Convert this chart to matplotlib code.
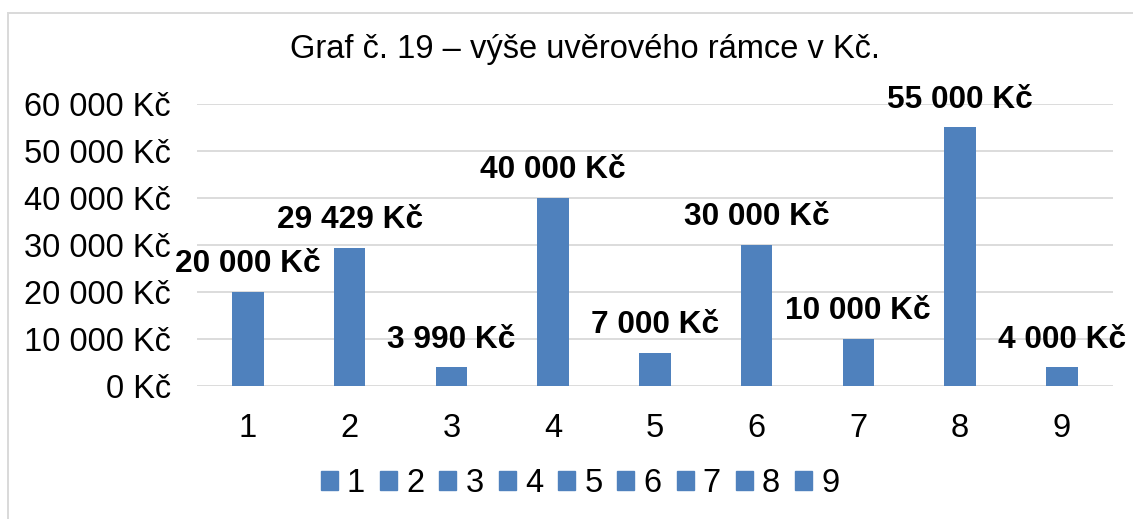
import matplotlib.pyplot as plt
from matplotlib.patches import Rectangle

# data
kategorie = ['1', '2', '3', '4', '5', '6', '7', '8', '9']
hodnoty = [20000, 29429, 3990, 40000, 7000, 30000, 10000, 55000, 4000]
popisky = ['20 000 Kč', '29 429 Kč', '3 990 Kč', '40 000 Kč', '7 000 Kč',
           '30 000 Kč', '10 000 Kč', '55 000 Kč', '4 000 Kč']
yticks = [0, 10000, 20000, 30000, 40000, 50000, 60000]
ytick_labels = ['0 Kč', '10 000 Kč', '20 000 Kč', '30 000 Kč', '40 000 Kč',
                '50 000 Kč', '60 000 Kč']

modra = '#4F81BD'
plt.rcParams['font.family'] = ['Liberation Sans', 'DejaVu Sans']

fig = plt.figure(figsize=(11.33, 5.19), dpi=100)
# ramecek grafu (vpravo a dole je orizly)
fig.patches.append(Rectangle((7.5 / 1133, -0.1), 1.2, 1.1 - 12.5 / 519,
                             transform=fig.transFigure, fill=False,
                             edgecolor='#D9D9D9', linewidth=1.4))
ax = fig.add_axes([0.174, 0.256, 0.808, 0.544])

x = list(range(len(kategorie)))
sloupce = ax.bar(x, hodnoty, width=0.31, color=modra, zorder=3)

for xi, h, t in zip(x, hodnoty, popisky):
    ax.annotate(t, (xi, h), xytext=(0, 20), textcoords='offset points',
                ha='center', va='center', fontsize=22.8, fontweight='bold')

ax.set_ylim(0, 60000)
ax.set_xlim(-0.5, len(kategorie) - 0.5)
ax.set_yticks(yticks)
ax.set_yticklabels(ytick_labels)
ax.set_xticks(x)
ax.set_xticklabels(kategorie)
ax.tick_params(axis='both', length=0, labelsize=23.5)
ax.tick_params(axis='y', pad=19)
ax.tick_params(axis='x', pad=19)
ax.grid(axis='y', color='#D9D9D9', linewidth=1.3, zorder=0)
for s in ax.spines.values():
    s.set_visible(False)

fig.text(0.516, 0.905, 'Graf č. 19 – výše uvěrového rámce v Kč.',
         ha='center', va='center', fontsize=23.5)

handles = [Rectangle((0, 0), 1, 1, color=modra) for _ in kategorie]
fig.legend(handles, kategorie, loc='center', bbox_to_anchor=(0.512, 0.068),
           ncol=9, frameon=False, fontsize=23.5, handlelength=0.52,
           handleheight=0.52, handletextpad=0.28, columnspacing=0.46,
           borderpad=0, borderaxespad=0)

fig.savefig('out.png', dpi=100)
